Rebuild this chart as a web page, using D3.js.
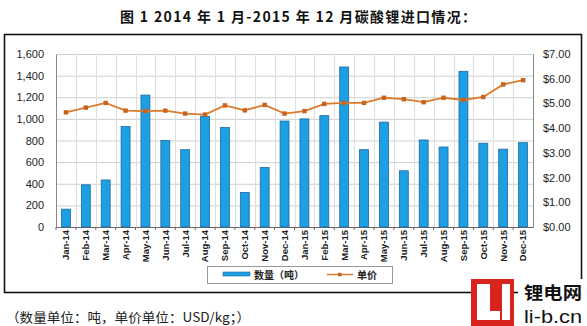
<!DOCTYPE html>
<html><head><meta charset="utf-8">
<script src="https://cdn.jsdelivr.net/npm/d3@7"></script>
<style>
html,body{margin:0;padding:0;background:#fff;}
svg{display:block;}
</style></head>
<body>
<svg id="chart" width="587" height="326"></svg>
<script>
const categories = ["Jan-14","Feb-14","Mar-14","Apr-14","May-14","Jun-14","Jul-14","Aug-14","Sep-14","Oct-14","Nov-14","Dec-14",
  "Jan-15","Feb-15","Mar-15","Apr-15","May-15","Jun-15","Jul-15","Aug-15","Sep-15","Oct-15","Nov-15","Dec-15"];
const quantity = [165,390,435,930,1220,800,715,1025,920,320,550,980,1000,1030,1480,715,970,520,805,740,1440,775,720,780];
const price = [4.64,4.83,5.02,4.71,4.69,4.71,4.59,4.55,4.92,4.72,4.94,4.59,4.69,4.98,5.02,5.02,5.23,5.17,5.05,5.23,5.14,5.26,5.77,5.94];
const leftTicks = [0,200,400,600,800,1000,1200,1400,1600];
const rightTicks = [0,1,2,3,4,5,6,7];
const titleText = "图 1 2014 年 1 月-2015 年 12 月碳酸锂进口情况：";
const legendLabels = ["数量（吨）","单价"];
const footnote = "（数量单位：吨，单价单位：USD/kg；）";

const svg = d3.select("#chart");
const pL = 56, pR = 533, pT = 54, pB = 227;

// title
svg.append("text").attr("x", 120).attr("y", 22)
  .attr("font-family","'Noto Sans CJK SC', sans-serif").attr("font-weight","bold")
  .attr("font-size",14).attr("fill","#111")
  .attr("textLength",356).attr("lengthAdjust","spacing").text(titleText);

// outer box
svg.append("rect").attr("x",4.5).attr("y",34.5).attr("width",577).attr("height",258)
  .attr("fill","#fff").attr("stroke","#111").attr("stroke-width",1.6);

const x = d3.scaleBand().domain(categories).range([pL,pR]).paddingInner(0.55).paddingOuter(0.275);
const yL = d3.scaleLinear().domain([0,1600]).range([pB,pT]);
const yR = d3.scaleLinear().domain([0,7]).range([pB,pT]);
const step = x.step();

// gridlines horizontal
svg.append("g").selectAll("line").data(leftTicks).join("line")
  .attr("x1",pL).attr("x2",pR).attr("y1",d=>yL(d)+0.5).attr("y2",d=>yL(d)+0.5)
  .attr("stroke","#cfcfcf").attr("stroke-width",1);
// vertical gridlines at band boundaries
const bounds = categories.map(c => x(c) + x.bandwidth()/2 - step/2).concat([pR]);
svg.append("g").selectAll("line").data(bounds).join("line")
  .attr("x1",d=>Math.round(d)+0.5).attr("x2",d=>Math.round(d)+0.5).attr("y1",pT).attr("y2",pB)
  .attr("stroke","#dedede").attr("stroke-width",1);

// axes
const axL = svg.append("g").attr("transform",`translate(${pL},0)`)
  .call(d3.axisLeft(yL).tickValues(leftTicks).tickFormat(d3.format(",")).tickSize(0).tickPadding(12));
axL.select(".domain").attr("stroke","#888");
const axR = svg.append("g").attr("transform",`translate(${pR},0)`)
  .call(d3.axisRight(yR).tickValues(rightTicks).tickFormat(d3.format("$.2f")).tickSize(0).tickPadding(10));
axR.select(".domain").attr("stroke","#888");
const axB = svg.append("g").attr("transform",`translate(0,${pB})`)
  .call(d3.axisBottom(x).tickSize(3).tickSizeOuter(0));
axB.select(".domain").attr("stroke","#666");
axB.selectAll(".tick line").attr("stroke","#666").attr("transform",`translate(${-step/2},0)`);
axB.selectAll(".tick text").attr("transform","rotate(-90)").attr("text-anchor","end")
  .attr("x",-3).attr("y",0).attr("dy","0.35em").attr("font-weight","bold").attr("font-size",9.5);
[axL,axR].forEach(a=>a.selectAll("text").attr("font-size",11));
svg.selectAll(".tick text").attr("font-family","'Liberation Sans', Arial, sans-serif").attr("fill","#222");

// bars
svg.append("g").selectAll("rect").data(quantity).join("rect")
  .attr("x",(d,i)=>x(categories[i])).attr("y",d=>yL(d)).attr("width",x.bandwidth())
  .attr("height",d=>pB-yL(d)).attr("fill","#1c9fe3").attr("stroke","#1d6aa3").attr("stroke-width",0.8);

// line
const cx = i => x(categories[i]) + x.bandwidth()/2;
svg.append("path").datum(price)
  .attr("d", d3.line().x((d,i)=>cx(i)).y(d=>yR(d)))
  .attr("fill","none").attr("stroke","#dd7a2c").attr("stroke-width",1.8);
svg.append("g").selectAll("rect").data(price).join("rect")
  .attr("x",(d,i)=>cx(i)-2.2).attr("y",d=>yR(d)-2.2).attr("width",4.4).attr("height",4.4)
  .attr("fill","#c9621b");

// legend
const lg = svg.append("g");
lg.append("rect").attr("x",207.5).attr("y",266.5).attr("width",185).attr("height",17)
  .attr("fill","#fff").attr("stroke","#999");
lg.append("rect").attr("x",223).attr("y",272).attr("width",27).attr("height",4)
  .attr("fill","#1c9fe3").attr("stroke","#1d6aa3").attr("stroke-width",0.6);
lg.append("text").attr("x",254).attr("y",279).attr("font-size",10).attr("font-weight","bold")
  .attr("font-family","'Noto Sans CJK SC', sans-serif").attr("fill","#222").text(legendLabels[0]);
lg.append("line").attr("x1",327).attr("x2",353).attr("y1",274.5).attr("y2",274.5)
  .attr("stroke","#dd7a2c").attr("stroke-width",1.5);
lg.append("rect").attr("x",338).attr("y",272.8).attr("width",3.5).attr("height",3.5).attr("fill","#c9621b");
lg.append("text").attr("x",357).attr("y",279).attr("font-size",10).attr("font-weight","bold")
  .attr("font-family","'Noto Sans CJK SC', sans-serif").attr("fill","#222").text(legendLabels[1]);

// footnote
svg.append("text").attr("x",6).attr("y",322).attr("font-size",13)
  .attr("font-family","'Noto Sans CJK SC', sans-serif").attr("fill","#222")
  .attr("textLength",244).attr("lengthAdjust","spacingAndGlyphs").text(footnote);

// logo
const logo = svg.append("g");
logo.append("rect").attr("x",471).attr("y",279).attr("width",43).attr("height",47).attr("fill","#d8231f");
logo.append("rect").attr("x",477).attr("y",284).attr("width",13).attr("height",36).attr("fill","#fff");
logo.append("rect").attr("x",477).attr("y",311).attr("width",23).attr("height",9).attr("fill","#fff");
logo.append("rect").attr("x",502).attr("y",284).attr("width",8).attr("height",36).attr("fill","#fff");
logo.append("rect").attr("x",518).attr("y",279).attr("width",69).attr("height",47).attr("fill","#fff");
logo.append("text").attr("x",553).attr("y",299).attr("text-anchor","middle").attr("font-size",17)
  .attr("font-family","'Noto Sans CJK SC', sans-serif").attr("font-weight","bold").attr("fill","#111")
  .attr("textLength",58).attr("lengthAdjust","spacingAndGlyphs").text("锂电网");
logo.append("text").attr("x",553).attr("y",323).attr("text-anchor","middle").attr("font-size",19)
  .attr("font-family","'Liberation Sans Narrow','Liberation Sans', sans-serif").attr("fill","#111")
  .attr("textLength",58).attr("lengthAdjust","spacingAndGlyphs").text("li-b.cn");
</script>
</body></html>
